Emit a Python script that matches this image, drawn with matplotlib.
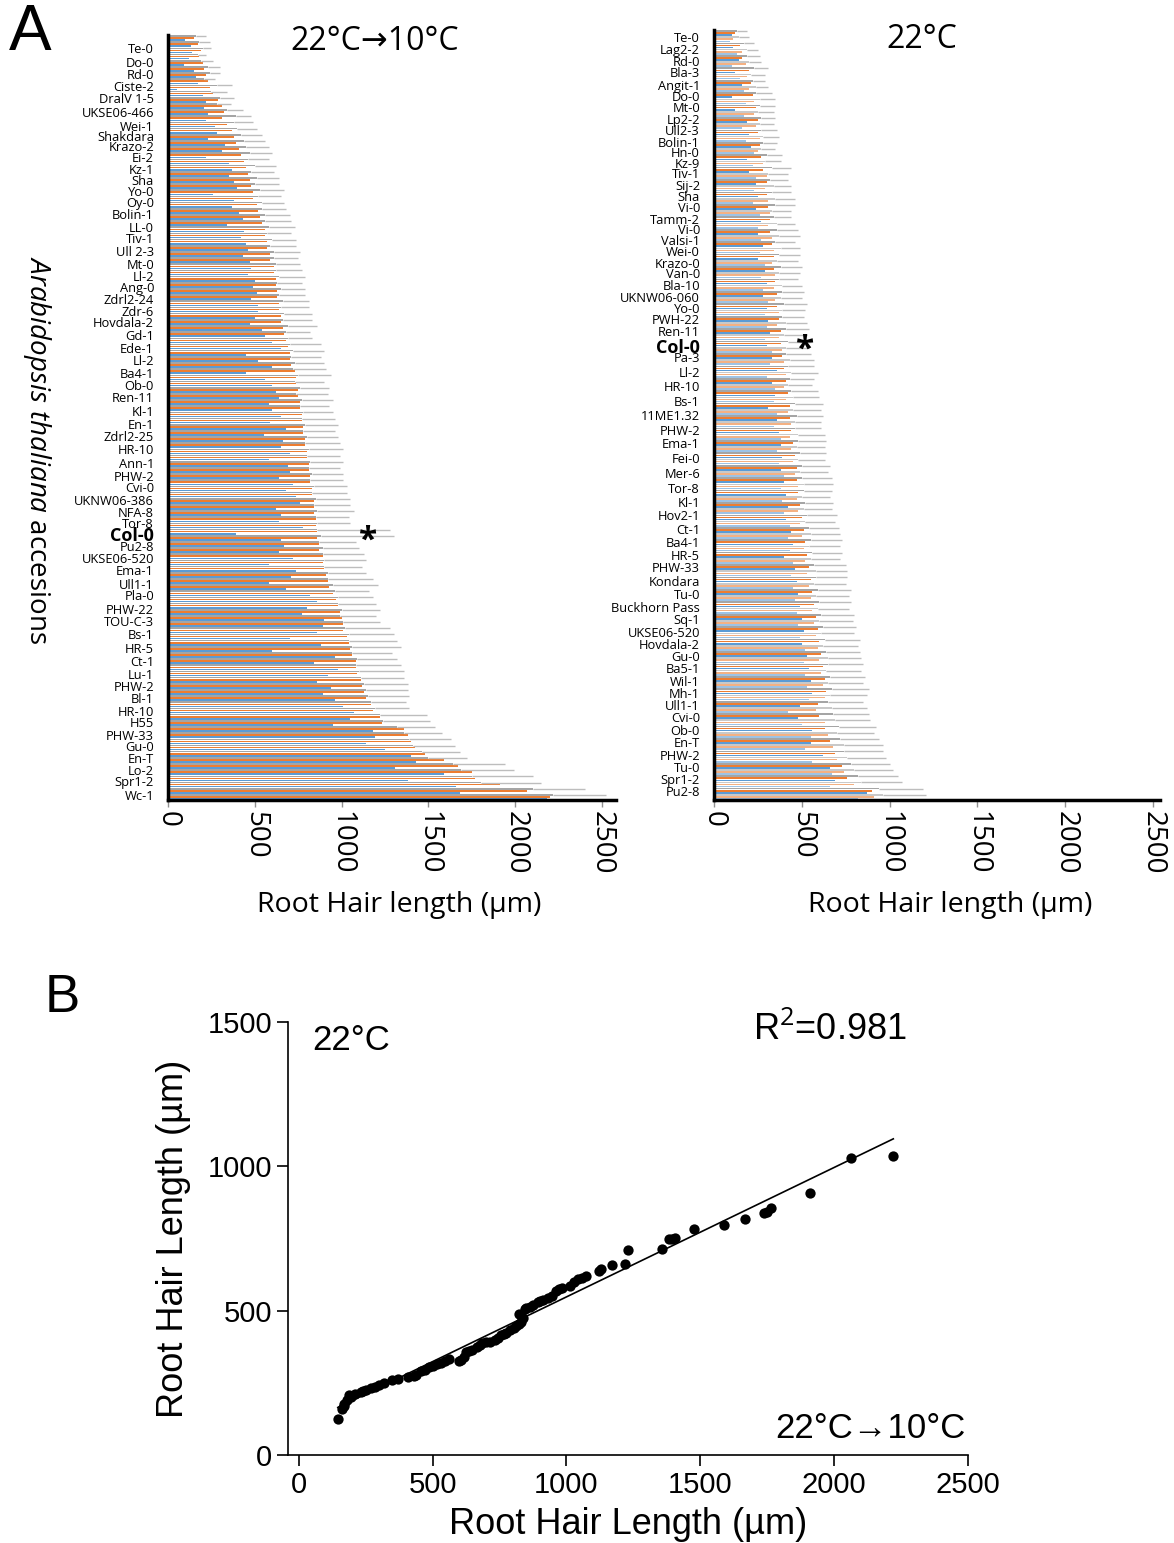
import numpy as np
import matplotlib.pyplot as plt

plt.rcParams['font.family'] = ['Open Sans', 'DejaVu Sans']
plt.rcParams['mathtext.fontset'] = 'custom'
plt.rcParams['mathtext.it'] = 'Open Sans:italic'
plt.rcParams['mathtext.rm'] = 'Open Sans'

# ---- panel A, left: 22C -> 10C, accessions top to bottom
left_labels = ['Te-0', 'Do-0', 'Rd-0', 'Ciste-2', 'DralV 1-5', 'UKSE06-466', 'Wei-1', 'Shakdara',
               'Krazo-2', 'Ei-2', 'Kz-1', 'Sha', 'Yo-0', 'Oy-0', 'Bolin-1', 'LL-0', 'Tiv-1',
               'Ull 2-3', 'Mt-0', 'Ll-2', 'Ang-0', 'Zdrl2-24', 'Zdr-6', 'Hovdala-2', 'Gd-1',
               'Ede-1', 'Ll-2', 'Ba4-1', 'Ob-0', 'Ren-11', 'Kl-1', 'En-1', 'Zdrl2-25', 'HR-10',
               'Ann-1', 'PHW-2', 'Cvi-0', 'UKNW06-386', 'NFA-8', 'Tor-8', 'Col-0', 'Pu2-8',
               'UKSE06-520', 'Ema-1', 'Ull1-1', 'Pla-0', 'PHW-22', 'TOU-C-3', 'Bs-1', 'HR-5',
               'Ct-1', 'Lu-1', 'PHW-2', 'Bl-1', 'HR-10', 'H55', 'PHW-33', 'Gu-0', 'En-T', 'Lo-2',
               'Spr1-2', 'Wc-1']
L_orange_a = [150,190,200,220,240,290,320,340,380,410,440,460,480,490,520,540,560,570,590,610,
              620,630,640,650,670,690,700,730,740,750,760,770,780,790,800,810,820,830,840,850,
              860,870,890,900,920,950,980,1000,1010,1040,1060,1080,1110,1130,1170,1220,1360,
              1400,1480,1670,1770,2070]
L_orange_b = [170,180,210,230,260,310,310,370,390,420,450,470,490,510,530,560,570,590,610,620,
              630,640,650,660,680,700,710,740,750,760,770,780,790,800,810,820,830,840,840,850,
              860,870,890,910,930,970,990,1010,1030,1050,1080,1090,1120,1140,1180,1230,1380,
              1420,1590,1750,1910,2200]
L_blue_a = [100,140,90,160,50,220,230,270,230,310,350,350,400,380,410,340,420,460,470,460,
            490,480,520,470,560,650,520,450,600,640,600,590,550,650,580,700,720,740,620,640,
            390,670,720,740,580,820,800,900,860,880,960,980,860,890,1010,1050,1180,1140,1400,
            1310,1380,1680]
L_blue_b = [130,120,150,170,200,210,220,280,330,220,370,380,260,370,430,440,450,430,480,500,
            510,520,500,540,600,450,600,560,620,580,650,680,660,700,690,640,680,760,650,780,
            650,640,580,710,680,860,770,890,700,600,840,920,940,960,1070,950,1190,1250,1430,
            1590,1660,2180]
L_gray_a = [160,200,190,240,280,300,340,380,420,450,460,480,500,520,540,560,570,590,610,620,
            630,640,650,660,680,700,710,720,730,740,760,770,780,790,800,810,820,830,840,850,
            860,870,890,900,920,960,980,990,1020,1040,1060,1080,1110,1140,1170,1220,1320,1390,
            1460,1640,1750,2100]
L_gray_b = [180,170,230,210,250,280,390,400,440,470,500,510,530,540,560,580,600,610,620,640,
            650,660,670,690,690,720,730,750,760,770,780,790,800,810,820,830,840,850,860,860,
            880,890,900,920,950,980,1000,1010,1040,1060,1090,1100,1130,1150,1190,1240,1360,
            1410,1500,1690,1800,2220]
L_err = [60,50,70,60,90,80,90,110,120,130,120,130,140,130,140,150,140,150,140,150,
         140,150,160,170,140,180,170,190,170,180,170,190,180,200,190,180,190,200,210,190,
         420,210,240,220,260,200,220,210,260,280,230,260,250,240,200,270,220,240,220,300,
         350,300]

# ---- panel A, right: 22C
right_labels = ['Te-0', 'Lag2-2', 'Rd-0', 'Bla-3', 'Angit-1', 'Do-0', 'Mt-0', 'Lp2-2', 'Ull2-3',
                'Bolin-1', 'Hn-0', 'Kz-9', 'Tiv-1', 'Sij-2', 'Sha', 'Vi-0', 'Tamm-2', 'Vi-0',
                'Valsi-1', 'Wei-0', 'Krazo-0', 'Van-0', 'Bla-10', 'UKNW06-060', 'Yo-0', 'PWH-22',
                'Ren-11', 'Col-0', 'Pa-3', 'Ll-2', 'HR-10', 'Bs-1', '11ME1.32', 'PHW-2', 'Ema-1',
                'Fei-0', 'Mer-6', 'Tor-8', 'Kl-1', 'Hov2-1', 'Ct-1', 'Ba4-1', 'HR-5', 'PHW-33',
                'Kondara', 'Tu-0', 'Buckhorn Pass', 'Sq-1', 'UKSE06-520', 'Hovdala-2', 'Gu-0',
                'Ba5-1', 'Wil-1', 'Mh-1', 'Ull1-1', 'Cvi-0', 'Ob-0', 'En-T', 'PHW-2', 'Tu-0',
                'Spr1-2', 'Pu2-8']
R_orange = [120,150,160,200,210,220,240,250,250,260,270,280,300,300,310,320,320,330,340,340,
            350,360,360,370,380,380,390,400,410,420,430,430,440,450,460,470,470,480,490,500,
            510,520,530,540,550,560,570,580,590,600,610,620,630,640,590,600,630,660,690,730,
            760,900]
R_lorange = [110,160,180,190,200,230,230,240,260,250,280,300,290,310,320,310,330,340,330,350,
             340,350,370,360,370,390,400,410,400,410,420,440,430,440,450,460,480,470,480,490,
             500,510,520,530,540,550,560,570,580,590,600,610,620,630,580,630,650,680,700,740,
             800,910]
R_blue = [100,110,140,120,160,100,120,190,200,210,190,200,240,250,240,270,250,280,250,290,
          300,280,300,310,320,300,330,360,330,350,310,360,370,380,390,380,400,410,420,410,
          440,450,400,460,470,480,490,500,510,500,530,540,550,560,490,480,560,550,620,660,
          690,870]
R_lblue = [90,130,100,150,170,180,170,160,180,230,220,240,230,220,260,250,270,260,290,270,
           280,310,290,300,290,330,320,300,350,340,360,340,380,360,370,400,380,390,400,430,
           420,430,450,440,450,460,470,480,490,520,510,520,530,540,420,500,550,520,560,670,
           660,820]
R_gray = [130,170,190,230,220,240,260,270,270,280,300,330,320,330,350,340,360,350,370,380,
          370,390,400,390,410,420,410,420,430,440,460,470,460,480,490,500,500,510,520,530,
          540,550,560,570,580,590,600,610,620,630,640,650,660,670,650,680,710,720,740,780,
          820,940]
R_lgray = [140,190,200,210,240,260,250,260,280,270,290,310,340,350,330,360,370,380,360,370,
           390,380,390,410,400,410,430,440,420,450,450,460,480,470,480,490,510,500,510,520,
           550,540,550,580,570,580,590,600,610,620,650,640,650,660,670,690,700,740,760,800,
           840,960]
R_err = [60,60,70,80,70,90,90,80,90,80,90,110,100,110,110,100,120,110,120,120,
         110,120,130,120,130,130,140,150,140,150,160,150,150,160,150,160,170,160,160,170,
         170,180,170,180,180,190,180,190,190,200,190,200,200,210,200,200,210,220,220,220,
         230,250]

# where the accession names sit in the original figure (pixel rows, top of image = 0)
left_label_px = [48,62,74,86,98,112,126,136,146,157,169,180,191,202,214,227,238,251,264,276,
                 287,299,311,322,335,348,360,373,385,397,411,424,436,449,463,476,487,500,512,
                 523,534,546,558,570,584,595,609,621,634,648,661,674,686,698,711,722,735,746,
                 758,770,781,795]
right_label_px = [37,49,61,72,85,96,107,119,130,142,152,163,173,185,196,207,219,229,240,251,
                  263,273,285,297,308,319,331,346,357,372,386,401,415,430,443,458,473,488,502,
                  515,529,542,555,567,581,594,607,619,632,644,656,668,681,693,705,717,730,742,
                  755,767,779,791]

# ---- panel B: mean root hair length 22C->10C (x) vs 22C (y)
x_cold = [146,162,168,170,182,188,195,211,231,240,251,271,285,300,320,350,370,409,430,439,
          458,470,488,500,518,530,547,560,597,605,617,626,636,646,666,676,686,700,715,735,
          745,755,765,775,790,804,810,824,830,836,824,844,850,864,875,893,903,913,933,945,
          962,972,982,1014,1030,1043,1060,1073,1123,1130,1170,1219,1229,1358,1383,1395,1407,
          1476,1589,1668,1739,1750,1763,1911,2063,2221]
y_warm = [123,159,177,170,189,207,200,213,219,222,225,231,236,243,248,259,264,270,273,276,
          291,296,306,310,315,320,327,333,325,330,339,357,360,363,375,380,387,390,393,399,
          405,417,420,423,432,441,446,453,460,475,489,507,510,513,520,531,535,537,543,550,
          567,575,579,585,600,609,612,621,639,645,657,663,709,713,747,750,753,
          783,797,819,837,842,855,906,1029,1035]

blue = '#5b9bd5'
orange = '#ed7d31'
gray = '#a5a5a5'
lblue = '#9dc3e6'
lorange = '#f4b183'
lgray = '#c9c9c9'


def draw_panel(ax, labels, label_px, top_px, bot_px, series, colors, err, err_on, xmax):
    n = len(labels)
    rows = np.arange(n)
    k = len(series)
    slot = 1.0 / k
    for j, (vals, col) in enumerate(zip(series, colors)):
        pos = rows - 0.5 + slot * (j + 0.5)
        xerr = None
        if j in err_on:
            xerr = [np.zeros(n), err]
        ax.barh(pos, vals, height=slot * 0.8, color=col, xerr=xerr,
                error_kw=dict(ecolor='#bdbdbd', elinewidth=1, capsize=0), zorder=2)
    ax.set_ylim(n - 0.5, -0.5)
    ax.set_xlim(0, xmax)
    tick_pos = (np.array(label_px) - top_px) * n / (bot_px - top_px) - 0.5
    ax.set_yticks(tick_pos)
    ax.set_yticklabels(labels, fontsize=9.3)
    ax.tick_params(axis='y', length=0, pad=10)
    ax.set_xticks([0, 500, 1000, 1500, 2000, 2500])
    ax.tick_params(axis='x', labelrotation=-90, labelsize=20, length=5,
                   color='#909090', width=1, pad=3)
    for t in ax.get_yticklabels():
        if t.get_text() == 'Col-0':
            t.set_fontweight('bold')
            t.set_fontsize(13)
    for s in ['top', 'right']:
        ax.spines[s].set_visible(False)
    for s in ['left', 'bottom']:
        ax.spines[s].set_linewidth(2.5)
    return tick_pos


fig = plt.figure(figsize=(11.74, 15.43), dpi=100)
W, H = 1174.0, 1543.0

ax1 = fig.add_axes([168 / W, 1 - 800 / H, 448 / W, 765 / H])
pos1 = draw_panel(ax1, left_labels, left_label_px, 35, 800,
                  [L_gray_a, L_orange_a, L_blue_a, L_gray_b, L_orange_b, L_blue_b],
                  [gray, orange, blue, gray, orange, blue], L_err, (0, 3), 2580)
ax1.text(1150, pos1[left_labels.index('Col-0')] + 0.6, '*', fontsize=24, fontweight='bold',
         ha='center', va='center')

ax2 = fig.add_axes([714 / W, 1 - 800 / H, 446 / W, 770 / H])
pos2 = draw_panel(ax2, right_labels, right_label_px, 30, 800,
                  [R_gray, R_orange, R_blue, R_lgray, R_lorange, R_lblue],
                  [gray, orange, blue, lgray, lorange, lblue], R_err, (0, 3), 2540)
ax2.text(520, pos2[right_labels.index('Col-0')] + 0.3, '*', fontsize=24, fontweight='bold',
         ha='center', va='center')

fig.text(30 / W, 1 - 33 / H, 'A', fontsize=46, family=['Liberation Sans', 'DejaVu Sans'],
         ha='center', va='center')
fig.text(375 / W, 1 - 42 / H, '22°C→10°C', fontsize=23, ha='center', va='center')
fig.text(922 / W, 1 - 40 / H, '22°C', fontsize=23, ha='center', va='center')
fig.text(399 / W, 1 - 905 / H, 'Root Hair length (µm)', fontsize=20.5, ha='center', va='center')
fig.text(950 / W, 1 - 905 / H, 'Root Hair length (µm)', fontsize=20.5, ha='center', va='center')
fig.text(37 / W, 1 - 450 / H, r'$\mathit{Arabidopsis\ thaliana}$ accesions', fontsize=20,
         rotation=-90, ha='center', va='center')

# ---- panel B
arial = ['Liberation Sans', 'DejaVu Sans']
ax3 = fig.add_axes([288 / W, 1 - 1455 / H, 680 / W, 433 / H])
ax3.scatter(x_cold, y_warm, s=55, color='black', zorder=3, linewidths=0)
slope, icpt = np.polyfit(x_cold, y_warm, 1)
xs = np.array([min(x_cold), max(x_cold)])
ax3.plot(xs, slope * xs + icpt, color='black', lw=1.2, zorder=2)
ax3.set_xlim(-40, 2500)
ax3.set_ylim(0, 1500)
ax3.set_xticks([0, 500, 1000, 1500, 2000, 2500])
ax3.set_yticks([0, 500, 1000, 1500])
ax3.tick_params(direction='out', length=8, width=1.2, labelsize=21)
for t in ax3.get_xticklabels() + ax3.get_yticklabels():
    t.set_family(arial)
for s in ['top', 'right']:
    ax3.spines[s].set_visible(False)
for s in ['left', 'bottom']:
    ax3.spines[s].set_linewidth(1.2)
ax3.set_xlabel('Root Hair Length (µm)', fontsize=26, family=arial, labelpad=6)
ax3.set_ylabel('Root Hair Length (µm)', fontsize=26, family=arial, labelpad=12)
ax3.text(312 / W, 1 - 1040 / H, '22°C', transform=fig.transFigure, fontsize=25,
         family=arial, ha='left', va='center')
ax3.text(830 / W, 1 - 1030 / H, 'R$^2$=0.981', transform=fig.transFigure, fontsize=26,
         family=arial, ha='center', va='center')
ax3.text(870 / W, 1 - 1428 / H, '22°C→10°C', transform=fig.transFigure,
         fontsize=25, family=arial, ha='center', va='center')
fig.text(62 / W, 1 - 998 / H, 'B', fontsize=38, family=arial, ha='center', va='center')

fig.savefig('out.png', dpi=100)
